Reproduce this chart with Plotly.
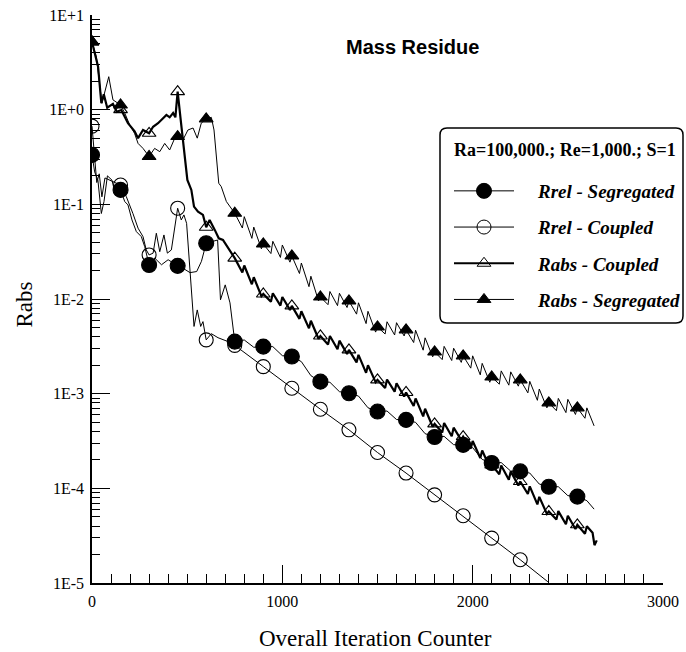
import plotly.graph_objects as go

# ---------------- data ----------------
marker_iter = [0, 150, 300, 450, 600, 750, 900, 1050, 1200, 1350, 1500,
               1650, 1800, 1950, 2100, 2250, 2400, 2550]

# Rrel - Segregated
rrel_seg_x = [0, 14, 31, 49, 63, 81, 105, 123, 150, 172, 189, 210, 233, 259, 277, 300,
              330, 365, 400, 425, 450, 480, 515, 550, 575, 600, 630, 660, 675, 700, 725,
              750, 800, 850, 900, 950, 1000, 1050, 1100, 1150, 1200, 1250, 1300, 1350,
              1400, 1450, 1500, 1550, 1600, 1650, 1700, 1750, 1800, 1850, 1900, 1950,
              2000, 2050, 2100, 2150, 2200, 2250, 2300, 2350, 2400, 2450, 2500, 2550,
              2600, 2638]
rrel_seg_y = [0.333, 0.22, 0.18, 0.080, 0.107, 0.20, 0.18, 0.126, 0.142, 0.107, 0.0986,
              0.0684, 0.0515, 0.0456, 0.0357, 0.0229,
              0.027, 0.023, 0.026, 0.024, 0.0224, 0.021, 0.019, 0.0195, 0.025, 0.0388,
              0.040, 0.042, 0.0098, 0.0141, 0.0091,
              0.00355, 0.00369, 0.00309, 0.00314, 0.00314, 0.00252, 0.00247, 0.00218,
              0.00155, 0.00134, 0.00132, 0.00105, 0.00101, 0.000944, 0.000710, 0.000647,
              0.000656, 0.000533, 0.000528, 0.000498, 0.000378, 0.000348, 0.000354,
              0.000289, 0.000288, 0.000269, 0.000202, 0.000185, 0.000187, 0.000152,
              0.000151, 0.000145, 0.000111, 0.000104, 0.000104, 0.0000837, 0.0000818,
              0.0000741, 0.0000603]
rrel_seg_marker = [0.333, 0.142, 0.0229, 0.0224, 0.0388, 0.00355, 0.00314, 0.00247,
                   0.00134, 0.00101, 0.000647, 0.000528, 0.000348, 0.000288, 0.000185,
                   0.000151, 0.000104, 0.0000818]

# Rrel - Coupled
rrel_cpl_x = [0, 15, 25, 38, 52, 68, 90, 120, 150, 180, 215, 242, 268, 285, 300,
              321, 338, 356, 378, 396, 417, 438, 450, 469, 483, 497, 513, 536, 553,
              571, 583, 600, 627, 662, 715, 750, 900, 1050, 1200, 1350, 1500, 1650,
              1800, 1950, 2100, 2250, 2395]
rrel_cpl_y = [0.67, 0.30, 0.17, 0.21, 0.12, 0.19, 0.18, 0.17, 0.16, 0.121, 0.080, 0.056,
              0.0456, 0.033, 0.0292, 0.0305, 0.0495, 0.0316, 0.0475, 0.0305, 0.033,
              0.0684, 0.091, 0.0684, 0.0773, 0.063, 0.022, 0.00513, 0.00767, 0.00513,
              0.00577, 0.00370, 0.0043, 0.0039, 0.00355, 0.00324, 0.00193, 0.00114,
              0.000685, 0.000415, 0.000239, 0.000145, 0.0000853, 0.0000513, 0.0000298,
              0.0000176, 0.0000103]
rrel_cpl_marker = [0.67, 0.16, 0.0292, 0.091, 0.00370, 0.00324, 0.00193, 0.00114,
                   0.000685, 0.000415, 0.000239, 0.000145, 0.0000853, 0.0000513,
                   0.0000298, 0.0000176]

# Rabs - Coupled
rabs_cpl_x = [0, 15, 32, 49, 62, 80, 110, 130, 154, 189, 224, 242, 268, 300, 321, 347,
              373, 391, 408, 426, 438, 450, 466, 483, 501, 522, 536, 557, 583, 600, 618,
              645, 666, 688, 715, 750,
              790, 800, 840, 850, 890, 900, 940, 950, 990, 1000, 1040, 1050, 1090, 1100,
              1140, 1150, 1190, 1200, 1240, 1250, 1290, 1300, 1340, 1350, 1390, 1400,
              1440, 1450, 1490, 1500, 1540, 1550, 1590, 1600, 1640, 1650, 1690, 1700,
              1740, 1750, 1790, 1800, 1840, 1850, 1890, 1900, 1940, 1950, 1990, 2000,
              2040, 2050, 2090, 2100, 2140, 2150, 2190, 2200, 2240, 2250, 2290, 2300,
              2340, 2350, 2390, 2400, 2440, 2450, 2490, 2500, 2540, 2550, 2590, 2600,
              2630, 2640, 2652]
rabs_cpl_y = [5.2, 4.0, 2.84, 1.17, 1.45, 1.05, 1.15, 0.95, 0.99, 0.72, 0.59, 0.50, 0.61,
              0.563, 0.66, 0.72, 0.81, 0.88, 0.83, 0.92, 0.83, 1.55, 0.78, 0.375, 0.181,
              0.142, 0.0946, 0.0838, 0.0773, 0.0573, 0.0684, 0.0537, 0.0438, 0.042,
              0.0344, 0.0270,
              0.0191, 0.0226, 0.0143, 0.0170, 0.0107, 0.0113, 0.00933, 0.0115, 0.00851,
              0.0105, 0.00767, 0.00845, 0.00617, 0.00741, 0.00490, 0.00589, 0.00380,
              0.00407, 0.00331, 0.00407, 0.00295, 0.00363, 0.00263, 0.00290, 0.00214,
              0.00257, 0.00166, 0.00200, 0.00132, 0.00140, 0.00115, 0.00141, 0.00105,
              0.00129, 0.000933, 0.00103, 0.000741, 0.000891, 0.000575, 0.000692,
              0.000447, 0.000480, 0.000389, 0.000490, 0.000355, 0.000437, 0.000324,
              0.000352, 0.000263, 0.000316, 0.000209, 0.000251, 0.000166, 0.000177,
              0.000141, 0.000174, 0.000123, 0.000151, 0.000107, 0.000118, 0.0000871,
              0.000105, 0.0000676, 0.0000813, 0.0000537, 0.0000569, 0.0000468,
              0.0000575, 0.0000417, 0.0000513, 0.0000372, 0.0000412, 0.0000331,
              0.0000398, 0.0000339, 0.0000251, 0.0000282]
rabs_cpl_marker = [5.2, 1.0, 0.563, 1.55, 0.0573, 0.0270, 0.0113, 0.00845, 0.00407,
                   0.00290, 0.00140, 0.00103, 0.000480, 0.000352, 0.000177, 0.000118,
                   0.0000569, 0.0000412]

# Rabs - Segregated
rabs_seg_x = [0, 23, 52, 88, 110, 150, 172, 198, 224, 242, 268, 300, 329, 356, 382, 408,
              431, 450, 478, 504, 531, 553, 574, 600, 627, 641, 666, 679, 706, 750,
              790, 800, 840, 850, 890, 900, 940, 950, 990, 1000, 1040, 1050, 1090, 1100,
              1140, 1150, 1190, 1200, 1240, 1250, 1290, 1300, 1340, 1350, 1390, 1400,
              1440, 1450, 1490, 1500, 1540, 1550, 1590, 1600, 1640, 1650, 1690, 1700,
              1740, 1750, 1790, 1800, 1840, 1850, 1890, 1900, 1940, 1950, 1990, 2000,
              2040, 2050, 2090, 2100, 2140, 2150, 2190, 2200, 2240, 2250, 2290, 2300,
              2340, 2350, 2390, 2400, 2440, 2450, 2490, 2500, 2540, 2550, 2590, 2600,
              2638]
rabs_seg_y = [5.2, 3.6, 1.17, 2.23, 1.27, 1.12, 0.92, 0.69, 0.56, 0.44, 0.39, 0.32, 0.39,
              0.36, 0.44, 0.375, 0.48, 0.52, 0.48, 0.61, 0.64, 0.50, 0.72, 0.80, 0.83,
              0.61, 0.167, 0.154, 0.107, 0.0805,
              0.0562, 0.0741, 0.0437, 0.0575, 0.0339, 0.0382, 0.0302, 0.0407, 0.0275,
              0.0372, 0.0245, 0.0285, 0.0186, 0.0240, 0.0135, 0.0174, 0.00955, 0.0105,
              0.00871, 0.0120, 0.00851, 0.0115, 0.00813, 0.00955, 0.00692, 0.00912,
              0.00550, 0.00741, 0.00447, 0.00507, 0.00427, 0.00575, 0.00417, 0.00562,
              0.00407, 0.00472, 0.00347, 0.00468, 0.00288, 0.00389, 0.00245, 0.00276,
              0.00229, 0.00316, 0.00224, 0.00302, 0.00214, 0.00251, 0.00186, 0.00251,
              0.00158, 0.00209, 0.00132, 0.00150, 0.00126, 0.00174, 0.00123, 0.00170,
              0.00120, 0.00140, 0.00102, 0.00135, 0.000851, 0.00112, 0.000708, 0.00080,
              0.000661, 0.000891, 0.000631, 0.000871, 0.000603, 0.000708, 0.000550,
              0.000708, 0.000457]
rabs_seg_marker = [5.2, 1.12, 0.32, 0.52, 0.80, 0.0805, 0.0382, 0.0285, 0.0105, 0.00955,
                   0.00507, 0.00472, 0.00276, 0.00251, 0.00150, 0.00140, 0.00080,
                   0.000708]

y_tickvals = [1e-5, 1e-4, 1e-3, 1e-2, 1e-1, 1e0, 1e1]
y_ticktext = ["1E-5", "1E-4", "1E-3", "1E-2", "1E-1", "1E+0", "1E+1"]
x_tickvals = [0, 1000, 2000, 3000]
x_ticktext = ["0", "1000", "2000", "3000"]

names = ["Rrel - Segregated", "Rrel - Coupled", "Rabs - Coupled", "Rabs - Segregated"]
legend_title = "Ra=100,000.; Re=1,000.; S=1"

# ---------------- styles ----------------
SERIF = "Liberation Serif"
BLACK = "#000000"
styles = {
    names[0]: dict(symbol="circle", size=15, lw=1.0),
    names[1]: dict(symbol="circle-open", size=14, lw=1.0),
    names[2]: dict(symbol="triangle-up-open", size=12, lw=2.2),
    names[3]: dict(symbol="triangle-up", size=12, lw=1.0),
}
GAP = "\u00a0" * 4

fig = go.Figure()

# legend entries
for nm in names:
    st = styles[nm]
    fig.add_trace(go.Scatter(
        x=[None], y=[None], mode="lines+markers",
        name="%s<b><i>%s</i></b>" % (GAP, nm),
        legendgroup=nm, showlegend=True,
        line=dict(color=BLACK, width=st["lw"]),
        marker=dict(symbol=st["symbol"], size=st["size"], color=BLACK,
                    line=dict(color=BLACK, width=1))))

series = [
    (names[0], rrel_seg_x, rrel_seg_y, rrel_seg_marker),
    (names[1], rrel_cpl_x, rrel_cpl_y, rrel_cpl_marker),
    (names[2], rabs_cpl_x, rabs_cpl_y, rabs_cpl_marker),
    (names[3], rabs_seg_x, rabs_seg_y, rabs_seg_marker),
]
# lines
for nm, xs, ys, ms in series:
    st = styles[nm]
    fig.add_trace(go.Scatter(
        x=xs, y=ys, mode="lines", legendgroup=nm, showlegend=False,
        line=dict(color=BLACK, width=st["lw"]), hoverinfo="skip"))

# markers: open first, filled on top
for idx in [1, 2, 0, 3]:
    nm, xs, ys, ms = series[idx]
    st = styles[nm]
    fig.add_trace(go.Scatter(
        x=marker_iter[:len(ms)], y=ms, mode="markers", legendgroup=nm,
        showlegend=False,
        marker=dict(symbol=st["symbol"], size=st["size"], color=BLACK,
                    line=dict(color=BLACK, width=1.1))))

# plot area in pixels: x 92..663, y 15..583
L, R, T, B = 92, 663, 15, 583
W, H = 686, 652
pw, ph = R - L, B - T


def px(xp):
    return (xp - L) / pw


def py(yp):
    return (B - yp) / ph


fig.update_layout(
    width=W, height=H,
    margin=dict(l=L, r=W - R, t=T, b=H - B, pad=0, autoexpand=False),
    paper_bgcolor="white", plot_bgcolor="white",
    font=dict(family=SERIF, color=BLACK),
    xaxis=dict(
        range=[0, 3000], showgrid=False, zeroline=False,
        showline=True, linecolor=BLACK, linewidth=1.5,
        tickmode="array", tickvals=x_tickvals, ticktext=x_ticktext,
        ticks="inside", ticklen=18, tickwidth=1, tickcolor=BLACK,
        ticklabelstandoff=3,
        tickfont=dict(family=SERIF, size=16, color=BLACK),
        minor=dict(dtick=100, ticks="inside", ticklen=9, tickwidth=1,
                   tickcolor=BLACK, showgrid=False),
    ),
    yaxis=dict(
        type="log", range=[-5, 1], showgrid=False, zeroline=False,
        showline=True, linecolor=BLACK, linewidth=1.5,
        tickmode="array", tickvals=y_tickvals, ticktext=y_ticktext,
        ticks="inside", ticklen=18, tickwidth=1, tickcolor=BLACK,
        ticklabelstandoff=3,
        tickfont=dict(family=SERIF, size=16, color=BLACK),
        minor=dict(dtick="D1", ticks="inside", ticklen=8, tickwidth=1,
                   tickcolor=BLACK, showgrid=False),
    ),
    legend=dict(
        x=px(449), y=py(172), xanchor="left", yanchor="top",
        bgcolor="rgba(0,0,0,0)", borderwidth=0,
        font=dict(family=SERIF, size=19, color=BLACK),
        traceorder="grouped", tracegroupgap=8.5, itemwidth=60,
    ),
    showlegend=True,
)

# rounded legend box
x0, x1, y0, y1 = px(440), px(683), py(323), py(128)
rx, ry = 7 / pw, 7 / ph
path = ("M {a},{y0} L {b},{y0} Q {x1},{y0} {x1},{c} L {x1},{d} Q {x1},{y1} {b},{y1} "
        "L {a},{y1} Q {x0},{y1} {x0},{d} L {x0},{c} Q {x0},{y0} {a},{y0} Z").format(
    a=x0 + rx, b=x1 - rx, c=y0 + ry, d=y1 - ry, x0=x0, x1=x1, y0=y0, y1=y1)
fig.add_shape(type="path", xref="paper", yref="paper", path=path,
              line=dict(color=BLACK, width=1.5), fillcolor="rgba(0,0,0,0)")

# legend heading
fig.add_annotation(text="<b>%s</b>" % legend_title, xref="paper", yref="paper",
                   x=px(452), y=py(150), xanchor="left", yanchor="middle",
                   showarrow=False, font=dict(family=SERIF, size=18, color=BLACK))

# titles
fig.add_annotation(text="<b>Mass Residue</b>", xref="paper", yref="paper",
                   x=px(412), y=py(47), xanchor="center", yanchor="middle",
                   showarrow=False,
                   font=dict(family="Liberation Sans", size=20, color=BLACK))
fig.add_annotation(text="Rabs", xref="paper", yref="paper", x=px(23.5), y=py(305),
                   xanchor="center", yanchor="middle", textangle=-90, showarrow=False,
                   font=dict(family=SERIF, size=23, color=BLACK))
fig.add_annotation(text="Overall Iteration Counter", xref="paper", yref="paper",
                   x=px(375), y=py(638), xanchor="center", yanchor="middle",
                   showarrow=False, font=dict(family=SERIF, size=23, color=BLACK))

fig.write_html("out.html")
